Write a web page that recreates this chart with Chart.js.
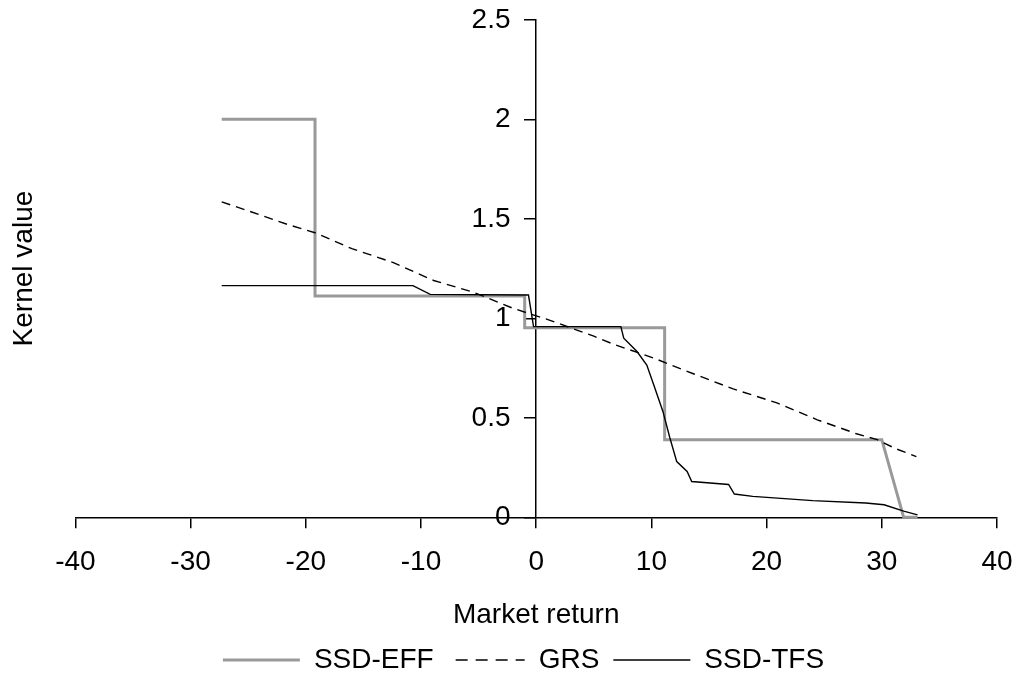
<!DOCTYPE html>
<html>
<head>
<meta charset="utf-8">
<script src="https://cdn.jsdelivr.net/npm/chart.js@4/dist/chart.umd.min.js"></script>
<style>
  html, body { margin: 0; padding: 0; background: #ffffff; }
  #wrap { position: relative; width: 1013px; height: 674px; }
</style>
</head>
<body>
<div id="wrap"><canvas id="c"></canvas></div>
<script>
// ---- data ----
const seriesNames = ['SSD-EFF', 'GRS', 'SSD-TFS'];

const effX = [-27.3, -19.2, -19.2, -1.0, -1.0, 11.15, 11.15, 30.0, 31.9, 33.1];
const effY = [2.0, 2.0, 1.112, 1.112, 0.953, 0.953, 0.39, 0.39, 0.0, 0.0];

const grsX = [-27.3, -25.0, -21.5, -19.2, -16.0, -12.4, -8.9, -5.4, -2.0, 1.2, 5.0, 6.7, 10.2, 13.7, 17.1, 20.9, 24.4, 27.8, 29.6, 31.2, 33.0];
const grsY = [1.585, 1.54, 1.47, 1.43, 1.35, 1.28, 1.19, 1.13, 1.05, 0.99, 0.91, 0.87, 0.80, 0.72, 0.645, 0.575, 0.49, 0.42, 0.39, 0.345, 0.305];

const tfsX = [-27.3, -10.7, -9.2, -0.67, -0.23, 7.35, 7.6, 8.75, 9.6, 10.2, 11.0, 11.6, 12.2, 13.1, 13.5, 16.7, 17.2, 18.8, 24.0, 28.6, 30.2, 31.9, 33.1];
const tfsY = [1.164, 1.164, 1.12, 1.117, 0.958, 0.958, 0.90, 0.833, 0.765, 0.666, 0.532, 0.40, 0.28, 0.23, 0.18, 0.165, 0.117, 0.105, 0.084, 0.072, 0.063, 0.031, 0.012];

const xTickValues = [-40, -30, -20, -10, 0, 10, 20, 30, 40];
const yTickValues = [0, 0.5, 1, 1.5, 2, 2.5];

const xTitle = 'Market return';
const yTitle = 'Kernel value';

// ---- build chart ----
const pts = (xs, ys) => xs.map((x, i) => ({ x: x, y: ys[i] }));
const FONT = '"Liberation Sans", Arial, sans-serif';

new Chart(document.getElementById('c'), {
  type: 'line',
  data: {
    datasets: [
      {
        label: seriesNames[0],
        data: pts(effX, effY),
        borderColor: '#999999',
        borderWidth: 3,
        pointRadius: 0,
        tension: 0,
        clip: 6,
        order: 3
      },
      {
        label: seriesNames[1],
        data: pts(grsX, grsY),
        borderColor: '#000000',
        borderWidth: 1.4,
        borderDash: [9, 6],
        pointRadius: 0,
        tension: 0,
        clip: 6,
        order: 2
      },
      {
        label: seriesNames[2],
        data: pts(tfsX, tfsY),
        borderColor: '#000000',
        borderWidth: 1.4,
        pointRadius: 0,
        tension: 0,
        clip: 6,
        order: 1
      }
    ]
  },
  options: {
    responsive: true,
    maintainAspectRatio: false,
    animation: false,
    layout: { padding: { left: 34, right: 0, top: 10, bottom: -10 } },
    plugins: {
      tooltip: { enabled: false },
      legend: {
        position: 'bottom',
        fullSize: true,
        labels: {
          usePointStyle: true,
          pointStyle: 'line',
          pointStyleWidth: 77,
          padding: 14,
          color: '#000000',
          font: { family: FONT, size: 28 },
          generateLabels: (chart) => chart.data.datasets.map((ds, i) => ({
            text: ds.label,
            datasetIndex: i,
            hidden: false,
            pointStyle: 'line',
            strokeStyle: ds.borderColor,
            fillStyle: ds.borderColor,
            lineWidth: ds.borderWidth,
            lineDash: ds.borderDash ? [12, 8] : [],
            lineDashOffset: ds.borderDash ? 12 : 0,
            fontColor: '#000000'
          }))
        }
      }
    },
    scales: {
      x: {
        type: 'linear',
        position: 'bottom',
        min: -40,
        max: 40,
        afterBuildTicks: (s) => { s.ticks = xTickValues.map(v => ({ value: v })); },
        afterFit: (s) => { s.paddingRight = 16; },
        grid: { display: true, drawOnChartArea: false, drawTicks: true, tickLength: 11, color: '#000000', lineWidth: 1.5 },
        border: { display: true, color: '#000000', width: 1.5 },
        ticks: { color: '#000000', padding: 17.5, maxRotation: 0, font: { family: FONT, size: 28 }, callback: (v) => String(v) },
        title: { display: true, text: xTitle, color: '#000000', padding: { top: 1.5, bottom: 0 }, font: { family: FONT, size: 28 } }
      },
      y: {
        type: 'linear',
        position: { x: 0 },
        min: 0,
        max: 2.5,
        afterBuildTicks: (s) => { s.ticks = yTickValues.map(v => ({ value: v })); },
        grid: { display: true, drawOnChartArea: false, drawTicks: true, tickLength: 11, color: '#000000', lineWidth: 1.5 },
        border: { display: true, color: '#000000', width: 1.5 },
        ticks: { color: '#000000', font: { family: FONT, size: 28 }, callback: (v) => String(v) + '   \u200A' }
      },
      yTitle: {
        type: 'linear',
        position: 'left',
        display: true,
        grid: { display: false },
        border: { display: false },
        ticks: { display: false },
        title: { display: true, text: yTitle, color: '#000000', padding: { top: -27, bottom: 26.8 }, font: { family: FONT, size: 28 } }
      }
    }
  }
});
</script>
</body>
</html>
